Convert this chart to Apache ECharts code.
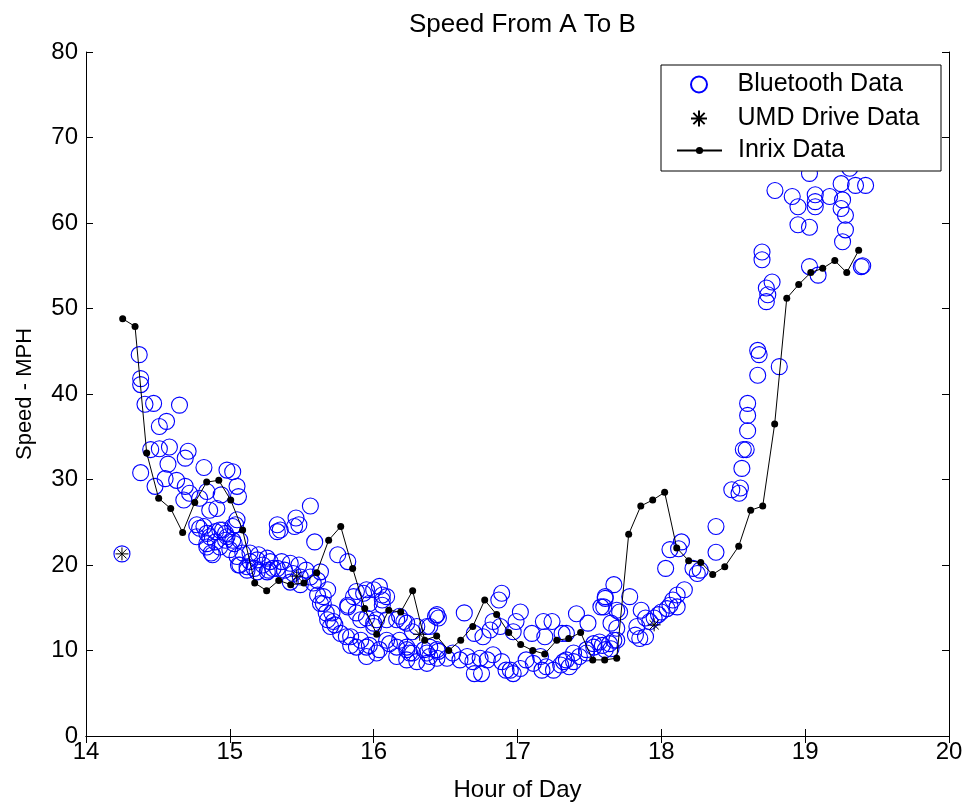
<!DOCTYPE html>
<html>
<head>
<meta charset="utf-8">
<script src="https://cdn.jsdelivr.net/npm/echarts@6/dist/echarts.min.js"></script>
<style>
html,body{margin:0;padding:0;background:#fff;}
#chart{width:969px;height:808px;}
</style>
</head>
<body>
<div id="chart"></div>
<script>
// ---------- DATA ----------
const titleText = 'Speed From A To B';
const xName = 'Hour of Day';
const yName = 'Speed - MPH';
const seriesNames = ['Bluetooth Data', 'UMD Drive Data', 'Inrix Data'];

// Bluetooth observations [hour, mph]
const bluetoothPoints = [
  [14.25,21.3],[14.37,44.6],[14.38,41.8],[14.38,41.1],[14.41,38.8],[14.47,38.9],[14.65,38.7],[14.56,36.8],
  [14.51,36.2],[14.38,30.8],[14.45,33.5],[14.51,33.6],[14.58,33.8],[14.69,32.5],[14.71,33.3],[14.57,31.8],
  [14.48,29.2],[14.55,30.1],[14.63,29.9],[14.69,29.2],[14.68,27.6],[14.72,28.4],[14.82,31.4],[14.98,31.1],
  [15.02,30.9],[15.05,29.2],[15.06,28.0],[14.94,28.2],[14.91,26.6],[14.79,27.8],[14.86,26.4],[15.05,25.3],
  [14.77,24.7],[14.79,24.3],[14.77,23.3],[14.84,23.7],[14.90,23.9],[14.95,24.1],[14.98,23.3],[15.02,22.9],
  [14.84,22.5],[14.88,21.2],[14.93,22.1],[15.00,21.8],[15.05,21.0],[15.09,21.4],[15.07,20.0],[15.14,20.4],
  [15.19,20.6],[15.23,20.0],[15.28,20.4],[15.26,19.2],[15.30,19.6],[15.12,19.4],[15.19,19.2],[15.33,24.7],
  [15.33,23.9],[15.35,24.1],[15.46,25.5],[15.48,24.7],[15.45,24.5],[15.56,26.9],[15.59,22.7],[15.75,21.2],
  [15.82,20.4],[15.63,19.2],[14.84,28.6],[15.02,24.5],[14.82,24.5],[14.86,23.3],[14.93,24.1],[14.97,23.7],
  [15.04,24.7],[14.84,22.1],[14.90,22.7],[14.97,22.9],[15.03,22.5],[15.07,22.9],[14.87,21.4],[15.14,21.4],
  [15.20,21.2],[15.26,20.8],[15.36,20.4],[15.42,20.2],[15.48,20.0],[15.53,19.4],[15.06,20.0],[15.12,19.8],
  [15.17,19.6],[15.27,19.4],[15.33,19.6],[15.38,19.4],[15.44,19.0],[15.49,18.6],[15.56,18.6],[15.61,18.2],
  [15.42,18.0],[15.49,17.7],[15.58,17.9],[15.61,16.5],[15.65,15.5],[15.63,15.5],[15.71,14.4],[15.72,13.4],
  [15.68,13.6],[15.73,13.0],[15.77,12.0],[15.84,11.6],[15.82,15.1],[15.86,16.3],[15.93,16.7],[16.00,17.1],
  [16.06,16.5],[16.09,16.3],[15.97,15.5],[16.06,15.3],[15.88,14.4],[15.95,13.8],[16.02,13.6],[16.00,12.8],
  [16.09,13.6],[16.16,13.6],[16.21,13.4],[15.91,11.2],[15.95,10.4],[16.04,10.1],[16.11,10.8],[16.18,11.2],
  [16.23,10.4],[16.25,9.7],[16.27,12.2],[15.88,16.9],[15.95,17.1],[15.82,15.3],[15.91,13.6],[16.00,13.2],
  [16.18,14.0],[16.23,13.2],[16.30,12.8],[16.37,12.8],[16.44,14.2],[15.97,10.6],[16.02,9.7],[15.95,9.3],
  [16.09,11.2],[16.16,10.4],[16.16,9.3],[16.23,10.1],[16.27,9.7],[16.23,8.9],[16.30,8.7],[16.37,9.7],
  [16.37,8.5],[16.44,10.1],[16.44,9.1],[15.70,12.8],[15.81,11.6],[15.84,10.6],[15.88,10.4],[15.67,14.4],
  [15.65,16.3],[15.68,17.1],[16.43,14.0],[16.63,14.4],[16.70,12.0],[16.89,16.7],[16.87,15.9],[17.02,14.5],
  [16.99,13.4],[16.97,12.2],[16.83,13.4],[16.81,12.4],[16.88,12.8],[17.18,13.4],[17.24,13.4],[17.19,11.6],
  [17.41,14.3],[17.49,13.2],[17.34,12.0],[17.65,13.2],[17.69,14.7],[17.60,15.1],[17.61,16.1],[17.67,17.7],
  [16.35,10.1],[16.39,9.3],[16.45,9.9],[16.51,9.1],[16.55,9.7],[16.60,8.9],[16.65,9.3],[16.69,8.7],
  [16.70,7.3],[16.74,9.1],[16.79,8.9],[16.83,9.5],[16.89,8.7],[16.92,7.7],[16.97,7.3],[17.02,7.9],
  [17.06,8.9],[17.11,8.5],[17.16,9.3],[17.20,8.1],[17.25,7.7],[17.30,8.3],[17.34,8.9],[17.39,8.7],
  [17.43,9.3],[17.48,9.7],[17.53,10.4],[17.59,10.6],[17.64,10.8],[17.69,11.2],[16.39,10.4],[16.04,17.5],
  [16.06,15.9],[16.45,13.8],[16.39,12.8],[16.76,11.6],[17.10,12.0],[17.31,12.0],[16.95,7.7],[17.17,7.7],
  [16.75,7.3],[17.58,15.1],[17.61,16.3],[17.71,14.5],[17.69,12.6],[17.78,16.3],[17.86,14.7],[17.89,13.8],
  [17.83,12.8],[17.82,11.8],[17.89,11.6],[17.85,11.4],[17.57,11.0],[17.67,11.2],[17.65,10.2],[17.61,10.1],
  [17.53,10.8],[17.48,10.1],[17.39,9.7],[17.32,8.7],[17.36,8.1],[17.92,13.4],[17.95,13.8],[17.98,14.2],
  [18.00,14.5],[18.04,14.9],[18.06,15.3],[18.08,15.9],[18.11,16.5],[18.11,15.1],[18.16,17.1],[18.03,19.6],
  [18.06,21.8],[18.12,21.9],[18.14,22.7],[18.22,19.6],[18.25,19.0],[18.27,19.4],[18.38,24.5],[18.38,21.5],
  [18.49,28.8],[18.55,29.0],[18.54,28.4],[18.56,31.3],[18.57,33.5],[18.59,33.5],[18.60,35.7],[18.60,37.5],
  [18.60,38.9],[18.67,42.2],[18.67,45.1],[18.68,44.6],[18.82,43.2],[18.73,50.8],[18.74,51.6],[18.73,52.4],
  [18.77,53.1],[18.70,55.7],[18.70,56.6],[18.79,63.8],[18.91,63.1],[18.95,61.9],[18.95,59.8],[19.03,59.5],
  [19.03,65.8],[19.03,54.9],[19.09,53.9],[19.07,63.3],[19.07,62.5],[19.07,61.9],[19.17,63.1],[19.25,64.6],
  [19.26,62.7],[19.25,61.7],[19.28,60.9],[19.28,59.2],[19.26,57.8],[19.35,64.4],[19.42,64.4],[19.39,54.9],
  [19.40,55.0],[19.31,66.4]
];

// UMD drive runs [hour, mph]
const umdPoints = [[14.25,21.3],[15.465,18.7],[16.32,11.9],[17.95,13.0]];

// Inrix feed: hours and speeds
const inrixHour = [
  14.255,14.341,14.422,14.505,14.589,14.672,14.756,14.839,14.923,15.006,15.089,15.173,15.256,15.340,15.423,15.515,
  15.604,15.687,15.771,15.854,15.938,16.021,16.105,16.188,16.271,16.355,16.438,16.522,16.605,16.689,16.772,16.855,
  16.939,17.022,17.106,17.189,17.273,17.356,17.439,17.523,17.606,17.690,17.773,17.857,17.940,18.023,18.107,18.190,
  18.274,18.357,18.441,18.538,18.621,18.705,18.788,18.872,18.955,19.039,19.122,19.206,19.289,19.372
];
const inrixSpeed = [
  48.8,47.9,33.1,27.8,26.6,23.8,27.3,29.7,29.9,27.6,24.1,17.9,17.0,18.2,17.7,17.9,
  19.1,22.9,24.5,19.6,14.9,11.9,14.7,14.5,17.0,11.2,11.7,10.0,11.2,12.8,15.9,14.2,
  12.1,10.7,10.0,9.6,11.2,11.4,12.1,8.9,8.9,9.1,23.6,26.9,27.6,28.5,22.0,20.5,
  20.3,18.9,19.8,22.2,26.4,26.9,36.5,51.2,52.8,54.2,54.7,55.6,54.2,56.8
];

// axis ranges
const xRange = [14, 20, 1];
const yRange = [0, 80, 10];

// ---------- CHART ----------
const FONT = 'Liberation Sans, Arial, Helvetica, sans-serif';
const FS = 24;
const chart = echarts.init(document.getElementById('chart'), null, {renderer: 'canvas'});
const inrixData = inrixHour.map((h, i) => [h, inrixSpeed[i]]);
const asterisk = 'path://M0,-10L0,10M-10,0L10,0M-7.07,-7.07L7.07,7.07M-7.07,7.07L7.07,-7.07';

const baseAxis = {
  type: 'value',
  axisLine: {show: true, lineStyle: {color: '#000', width: 1}},
  axisTick: {show: true, inside: true, length: 7, lineStyle: {color: '#000', width: 1}},
  splitLine: {show: false},
};

chart.setOption({
  animation: false,
  backgroundColor: '#fff',
  title: {
    text: titleText, left: 404, top: 7,
    textStyle: {fontFamily: FONT, fontSize: 26, fontWeight: 'normal', color: '#000'}
  },
  grid: {left: 86, right: 20, top: 52, bottom: 72},
  xAxis: [
    Object.assign({}, baseAxis, {
      min: xRange[0], max: xRange[1], interval: xRange[2], position: 'bottom',
      name: xName, nameLocation: 'middle', nameGap: 42,
      nameTextStyle: {fontFamily: FONT, fontSize: FS, color: '#000'},
      axisLabel: {fontFamily: FONT, fontSize: FS, color: '#000', margin: 4}
    }),
    Object.assign({}, baseAxis, {
      min: xRange[0], max: xRange[1], interval: xRange[2], position: 'top',
      axisLabel: {show: false}
    })
  ],
  yAxis: [
    Object.assign({}, baseAxis, {
      min: yRange[0], max: yRange[1], interval: yRange[2], position: 'left',
      name: yName, nameLocation: 'middle', nameGap: 50, nameRotate: 90,
      nameTextStyle: {fontFamily: FONT, fontSize: FS - 2, color: '#000'},
      axisLabel: {fontFamily: FONT, fontSize: FS, color: '#000', margin: 8}
    }),
    Object.assign({}, baseAxis, {
      min: yRange[0], max: yRange[1], interval: yRange[2], position: 'right',
      axisLabel: {show: false}
    })
  ],
  legend: [
    {
      data: [seriesNames[0], seriesNames[1]],
      orient: 'vertical', left: 690, top: 72, padding: 0,
      itemWidth: 45, itemHeight: 16, itemGap: 9, selectedMode: false, z: 10,
      textStyle: {fontFamily: FONT, fontSize: FS + 1, color: '#000', padding: [0, 0, 0, 11]}
    },
    {
      data: [seriesNames[2]],
      orient: 'vertical', left: 676, top: 138, padding: 0,
      itemWidth: 45, itemHeight: 9, itemGap: 8, selectedMode: false, z: 10,
      textStyle: {fontFamily: FONT, fontSize: FS + 1, color: '#000', padding: [0, 0, 0, 11]}
    }
  ],
  graphic: [{
    type: 'rect', z: 8, silent: true,
    shape: {x: 661, y: 65, width: 280, height: 106},
    style: {fill: '#fff', stroke: '#000', lineWidth: 1}
  }],
  series: [
    {
      name: seriesNames[0], type: 'scatter', data: bluetoothPoints,
      symbol: 'circle', symbolSize: 16, z: 2,
      itemStyle: {color: 'rgba(0,0,0,0)', borderColor: '#0000ff', borderWidth: 1.1, opacity: 1}
    },
    {
      name: seriesNames[1], type: 'scatter', data: umdPoints,
      symbol: asterisk, symbolSize: 13, z: 4,
      itemStyle: {color: 'rgba(0,0,0,0)', borderColor: '#000', borderWidth: 1, opacity: 1}
    },
    {
      name: seriesNames[2], type: 'line', data: inrixData,
      symbol: 'circle', symbolSize: 7, showSymbol: true, z: 3,
      lineStyle: {color: '#000', width: 1},
      itemStyle: {color: '#000', borderWidth: 0}
    }
  ]
});
</script>
</body>
</html>
